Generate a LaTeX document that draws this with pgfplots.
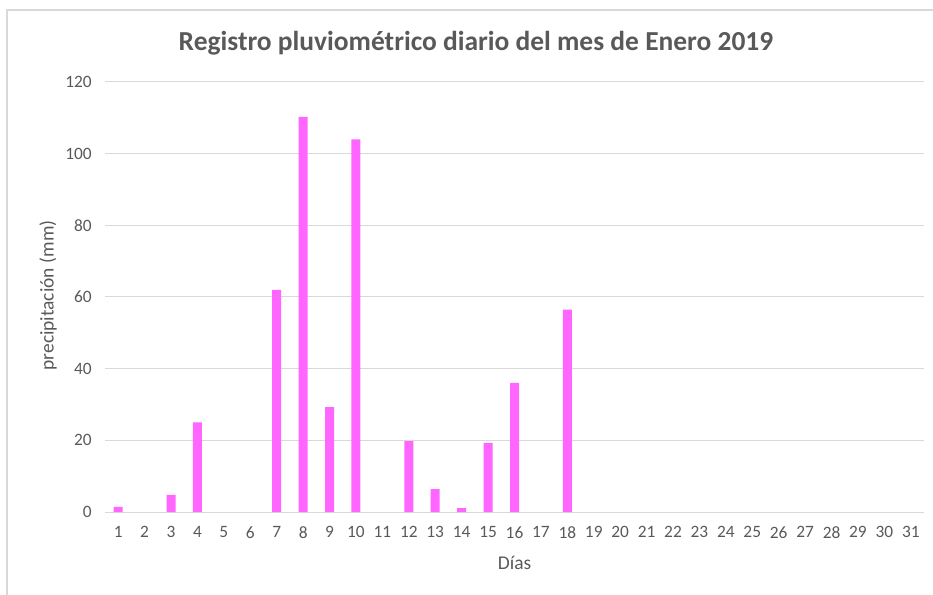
\documentclass[border=0pt]{standalone}
\usepackage{pgfplots}
\pgfplotsset{compat=1.18}
\usepackage{fontspec}
\setmainfont{Carlito}
\definecolor{txt}{HTML}{595959}
\definecolor{grd}{HTML}{D9D9D9}
\definecolor{barc}{HTML}{FF66FF}
\begin{document}
\begin{tikzpicture}
\path[use as bounding box] (0pt,0pt) rectangle (699.75pt,-446.25pt);
\draw[grd, line width=0.9pt] (5.25pt,-450pt) -- (5.25pt,-7.5pt) -- (705pt,-7.5pt);
\begin{axis}[
  at={(78.75pt,-384pt)}, anchor=south west,
  scale only axis, width=614.25pt, height=322.5pt,
  ymin=0, ymax=120, ytick={0,20,...,120},
  xmin=0.5, xmax=31.5, xtick={1,...,31},
  ybar, bar width=6.75pt,
  axis line style={draw=none},
  major tick length=0pt,
  ymajorgrids, grid style={grd, line width=0.75pt},
  /pgf/number format/assume math mode=true,
  tick label style={font=\fontsize{13}{15}\selectfont, text=txt},
  yticklabel style={xshift=-6.5pt},
  xticklabel style={yshift=-7.5pt},
  clip=false,
]
% days with zero rainfall (2, 5, 6, 11, 17, 19-31) draw no bar
\addplot[fill=barc, draw=none] coordinates {
(1,1.4) (3,4.8) (4,25.0) (7,62.0) (8,110.3) (9,29.3) (10,104.0)
(12,19.8) (13,6.4) (14,1.1) (15,19.3) (16,36.0) (18,56.5)
};
\end{axis}
\node[anchor=base, text=txt, font=\fontsize{20.6}{23}\selectfont\bfseries] at (357pt,-38pt) {Registro pluviométrico diario del mes de Enero 2019};
\node[rotate=90, text=txt, font=\fontsize{14.6}{17}\selectfont] at (36pt,-221.6pt) {precipitación (mm)};
\node[anchor=base, text=txt, font=\fontsize{14.6}{17}\selectfont] at (386pt,-427.5pt) {Días};
\end{tikzpicture}
\end{document}
